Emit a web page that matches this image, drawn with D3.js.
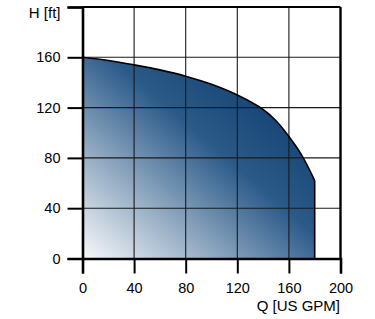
<!DOCTYPE html>
<html>
<head>
<meta charset="utf-8">
<script src="https://cdn.jsdelivr.net/npm/d3@7"></script>
<style>
  body { margin: 0; background: #fff; }
  text { font-family: "Liberation Sans", Arial, sans-serif; fill: #000; }
</style>
</head>
<body>
<div id="chart"></div>
<script>
// pump curve
var flow = [0, 20, 40, 60, 80, 100, 120, 140, 150, 160, 170, 180];
var head = [160, 157.5, 154, 150, 145, 138.5, 130, 118.5, 109.5, 97, 82, 62];
var xTicks = [0, 40, 80, 120, 160, 200];
var yTicks = [0, 40, 80, 120, 160, 200];
var xTitle = "Q [US GPM]";
var yTitle = "H [ft]";

var width = 375, height = 319;

var x = d3.scaleLinear().domain([0, 200]).range([82.5, 340.5]);
var y = d3.scaleLinear().domain([0, 200]).range([258.5, 7]);

var svg = d3.select("#chart").append("svg")
  .attr("width", width)
  .attr("height", height);

// gradient for the area (light bottom-left, dark navy top-right)
var grad = svg.append("defs").append("linearGradient")
  .attr("id", "fillGrad")
  .attr("x1", "0").attr("y1", "1")
  .attr("x2", "1").attr("y2", "0");
grad.append("stop").attr("offset", "0").attr("stop-color", "#f7f9fb");
grad.append("stop").attr("offset", "0.28").attr("stop-color", "#93abc2");
grad.append("stop").attr("offset", "0.56").attr("stop-color", "#2b5a89");
grad.append("stop").attr("offset", "0.78").attr("stop-color", "#174676");
grad.append("stop").attr("offset", "1").attr("stop-color", "#1c3860");

var pts = flow.map(function(d, i) { return [d, head[i]]; });

var area = d3.area()
  .x(function(d) { return x(d[0]); })
  .y0(y(0))
  .y1(function(d) { return y(d[1]); })
  .curve(d3.curveCatmullRom.alpha(0.5));

svg.append("path")
  .datum(pts)
  .attr("d", area)
  .attr("fill", "url(#fillGrad)");

// grid lines on top of the fill
svg.append("g").selectAll("line.v")
  .data(xTicks.slice(1, -1))
  .enter().append("line")
  .attr("x1", function(d) { return x(d); })
  .attr("x2", function(d) { return x(d); })
  .attr("y1", y(200)).attr("y2", y(0))
  .attr("stroke", "#1a1a1a")
  .attr("stroke-width", 1.1);

svg.append("g").selectAll("line.h")
  .data(yTicks.slice(1, -1))
  .enter().append("line")
  .attr("y1", function(d) { return y(d); })
  .attr("y2", function(d) { return y(d); })
  .attr("x1", x(0)).attr("x2", x(200))
  .attr("stroke", "#1a1a1a")
  .attr("stroke-width", 1.1);

// curve outline + drop at the end
var line = d3.line()
  .x(function(d) { return x(d[0]); })
  .y(function(d) { return y(d[1]); })
  .curve(d3.curveCatmullRom.alpha(0.5));

svg.append("path")
  .datum(pts)
  .attr("d", line)
  .attr("fill", "none")
  .attr("stroke", "#000")
  .attr("stroke-width", 1.6);

var last = pts[pts.length - 1];
svg.append("line")
  .attr("x1", x(last[0])).attr("x2", x(last[0]))
  .attr("y1", y(last[1])).attr("y2", y(0))
  .attr("stroke", "#000")
  .attr("stroke-width", 1.6);

// frame: top and right
svg.append("line")
  .attr("x1", x(0)).attr("x2", x(200))
  .attr("y1", y(200)).attr("y2", y(200))
  .attr("stroke", "#000").attr("stroke-width", 2);
svg.append("line")
  .attr("x1", x(200)).attr("x2", x(200))
  .attr("y1", y(200)).attr("y2", y(0))
  .attr("stroke", "#000").attr("stroke-width", 2.4);

// axes
var yAxis = d3.axisLeft(y)
  .tickValues(yTicks)
  .tickSize(15)
  .tickPadding(7)
  .tickFormat(function(d) { return d == 200 ? "" : d; });

var xAxis = d3.axisBottom(x)
  .tickValues(xTicks)
  .tickSize(15)
  .tickPadding(9)
  .tickFormat(function(d) { return d; });

var gy = svg.append("g")
  .attr("transform", "translate(" + x(0) + ",0)")
  .call(yAxis);
var gx = svg.append("g")
  .attr("transform", "translate(0," + y(0) + ")")
  .call(xAxis);

[gx, gy].forEach(function(g) {
  g.select(".domain").attr("stroke", "#000").attr("stroke-width", 2.6);
  g.selectAll(".tick line").attr("stroke", "#000").attr("stroke-width", 2);
  g.selectAll(".tick text")
    .style("font-family", "'Liberation Sans', Arial, sans-serif")
    .style("font-size", "14.5px")
    .attr("fill", "#000");
});

// axis titles
svg.append("text")
  .attr("x", 60.5).attr("y", 18)
  .attr("text-anchor", "end")
  .style("font-size", "15px")
  .text(yTitle);

svg.append("text")
  .attr("x", 340).attr("y", 311)
  .attr("text-anchor", "end")
  .style("font-size", "15px")
  .text(xTitle);
</script>
</body>
</html>
